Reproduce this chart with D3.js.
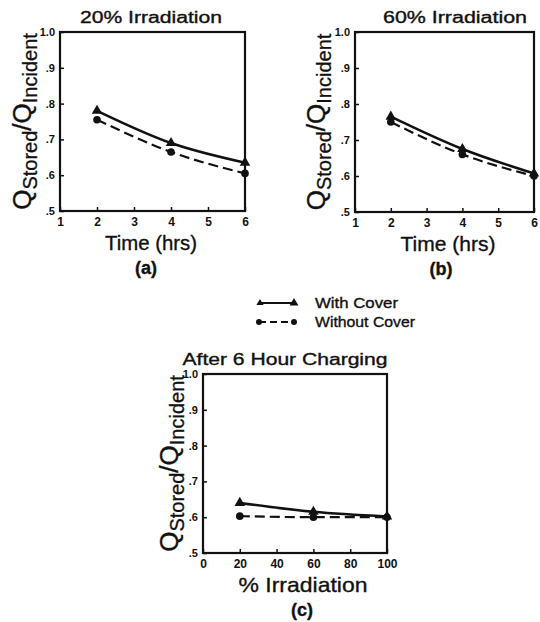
<!DOCTYPE html>
<html><head><meta charset="utf-8">
<script src="https://cdn.jsdelivr.net/npm/d3@7"></script>
<style>body{margin:0;background:#fff}svg{font-family:"Liberation Sans",Arial,sans-serif}</style>
</head><body>
<svg id="c" width="540" height="622"></svg>
<script>
const timeHrs = [2, 4, 6];
const irr20WithCover = [0.78, 0.69, 0.635];
const irr20WithoutCover = [0.755, 0.665, 0.605];
const irr60WithCover = [0.765, 0.675, 0.607];
const irr60WithoutCover = [0.75, 0.66, 0.6];
const irradiationPct = [20, 60, 100];
const sixHrWithCover = [0.64, 0.615, 0.602];
const sixHrWithoutCover = [0.603, 0.6, 0.6];
const timeTicks = [1, 2, 3, 4, 5, 6];
const irrTicks = [0, 20, 40, 60, 80, 100];
const yTicks = [0.5, 0.6, 0.7, 0.8, 0.9, 1.0];
const yTickLabels = [".5", ".6", ".7", ".8", ".9", "1.0"];

const svg = d3.select("#c");

function label(g, x, y, txt, size, len, bold) {
  const t = g.append("text").attr("x", x).attr("y", y).attr("text-anchor", "middle")
    .attr("font-size", size).attr("fill", "#111").attr("stroke", "#111").attr("stroke-width", 0.35)
    .attr("font-weight", bold ? "bold" : "normal").text(txt);
  if (len) t.attr("textLength", len).attr("lengthAdjust", "spacingAndGlyphs");
  return t;
}

function panel(o) {
  const g = svg.append("g");
  const x = d3.scaleLinear().domain(o.xDomain).range([o.left, o.right]);
  const y = d3.scaleLinear().domain([0.5, 1.0]).range([o.bottom, o.top]);
  g.append("rect").attr("x", o.left).attr("y", o.top)
    .attr("width", o.right - o.left).attr("height", o.bottom - o.top)
    .attr("fill", "none").attr("stroke", "#111").attr("stroke-width", 2.2);
  const xa = g.append("g").attr("transform", `translate(0,${o.bottom})`)
    .call(d3.axisBottom(x).tickValues(o.xTicks).tickSize(-4).tickPadding(6).tickFormat(d3.format("d")));
  const ya = g.append("g").attr("transform", `translate(${o.left},0)`)
    .call(d3.axisLeft(y).tickValues(yTicks).tickSize(-4).tickPadding(5)
      .tickFormat((d, i) => yTickLabels[i]));
  [xa, ya].forEach(a => {
    a.select(".domain").remove();
    a.selectAll("line").attr("stroke", "#111").attr("stroke-width", 1.5);
    a.selectAll("text").attr("fill", "#111").attr("font-weight", "bold")
      .attr("font-family", "Liberation Sans, Arial, sans-serif");
  });
  xa.selectAll("text").attr("font-size", 12);
  ya.selectAll("text").attr("font-size", 11);
  const line = d3.line().x(d => x(d[0])).y(d => y(d[1])).curve(d3.curveMonotoneX);
  const withPts = o.xs.map((v, i) => [v, o.withC[i]]);
  const woPts = o.xs.map((v, i) => [v, o.withoutC[i]]);
  g.append("path").attr("d", line(woPts)).attr("fill", "none").attr("stroke", "#111")
    .attr("stroke-width", 2.2).attr("stroke-dasharray", "10,5");
  g.append("path").attr("d", line(withPts)).attr("fill", "none").attr("stroke", "#111")
    .attr("stroke-width", 2.5);
  const tri = d3.symbol().type(d3.symbolTriangle).size(48);
  g.selectAll(".tri").data(withPts).enter().append("path")
    .attr("transform", d => `translate(${x(d[0])},${y(d[1])})`).attr("d", tri()).attr("fill", "#111");
  g.selectAll(".dot").data(woPts).enter().append("circle")
    .attr("cx", d => x(d[0])).attr("cy", d => y(d[1])).attr("r", 3.8).attr("fill", "#111");
  label(g, o.titleX, o.top - 9, o.title, 16, o.titleLen, false);
  label(g, o.xLabelX, o.bottom + 39, o.xLabel, 21, o.xLabelLen, false);
  label(g, o.subX, o.bottom + 63, o.sub, 18, null, true);
  const yl = g.append("text").attr("transform", `translate(${o.yLabelX},${(o.top + o.bottom) / 2}) rotate(-90)`)
    .attr("text-anchor", "middle").attr("font-size", 26).attr("fill", "#111")
    .attr("stroke", "#111").attr("stroke-width", 0.3);
  yl.append("tspan").text("Q");
  yl.append("tspan").attr("font-size", 20).attr("dy", 6).text("Stored");
  yl.append("tspan").attr("dy", -6).text("/Q");
  yl.append("tspan").attr("font-size", 20).attr("dy", 6).text("Incident");
}

panel({left: 60, right: 245, top: 32, bottom: 211, xDomain: [1, 6], xTicks: timeTicks,
  xs: timeHrs, withC: irr20WithCover, withoutC: irr20WithoutCover,
  title: "20% Irradiation", titleX: 151, titleLen: 142, xLabel: "Time (hrs)", xLabelX: 151, xLabelLen: 92,
  sub: "(a)", subX: 146, yLabelX: 31});
panel({left: 355, right: 534, top: 32, bottom: 212, xDomain: [1, 6], xTicks: timeTicks,
  xs: timeHrs, withC: irr60WithCover, withoutC: irr60WithoutCover,
  title: "60% Irradiation", titleX: 455, titleLen: 144, xLabel: "Time (hrs)", xLabelX: 448, xLabelLen: 95,
  sub: "(b)", subX: 441, yLabelX: 325});
panel({left: 203, right: 387, top: 374, bottom: 553, xDomain: [0, 100], xTicks: irrTicks,
  xs: irradiationPct, withC: sixHrWithCover, withoutC: sixHrWithoutCover,
  title: "After 6 Hour Charging", titleX: 285, titleLen: 205, xLabel: "% Irradiation", xLabelX: 303, xLabelLen: 129,
  sub: "(c)", subX: 302, yLabelX: 178});

const lg = svg.append("g");
const legendItems = ["With Cover", "Without Cover"];
legendItems.forEach((t, i) => {
  const yy = 303 + i * 19;
  lg.append("line").attr("x1", 259).attr("x2", 294).attr("y1", yy).attr("y2", yy)
    .attr("stroke", "#111").attr("stroke-width", 2.2).attr("stroke-dasharray", i ? "7,4" : null);
  if (i === 0) {
    lg.append("path").attr("transform", `translate(294,${yy})`)
      .attr("d", d3.symbol().type(d3.symbolTriangle).size(34)()).attr("fill", "#111");
    lg.append("path").attr("transform", `translate(260,${yy})`)
      .attr("d", d3.symbol().type(d3.symbolTriangle).size(22)()).attr("fill", "#111");
  } else {
    lg.append("circle").attr("cx", 259).attr("cy", yy).attr("r", 3).attr("fill", "#111");
    lg.append("circle").attr("cx", 294).attr("cy", yy).attr("r", 3).attr("fill", "#111");
  }
  lg.append("text").attr("x", 315).attr("y", yy + 5).attr("font-size", 15).attr("fill", "#111")
    .attr("stroke", "#111").attr("stroke-width", 0.35)
    .attr("textLength", i ? 100 : 83).attr("lengthAdjust", "spacingAndGlyphs").text(t);
});
</script>
</body></html>
